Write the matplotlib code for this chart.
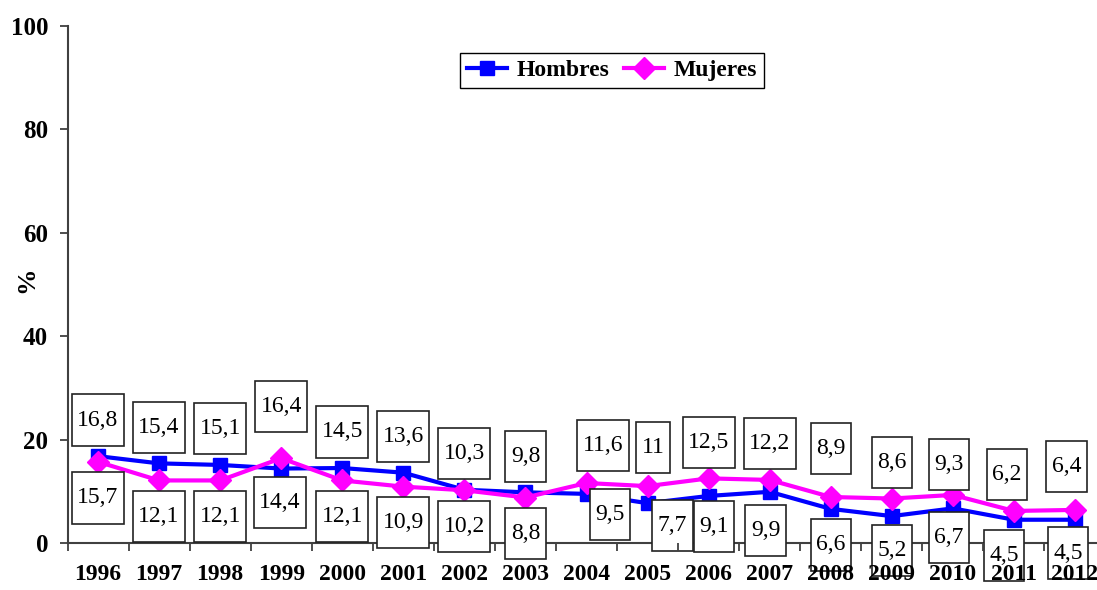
import matplotlib
matplotlib.use("Agg")
import matplotlib.pyplot as plt
import numpy as np
from matplotlib.path import Path

plt.rcParams['font.family'] = ['Liberation Serif', 'DejaVu Serif']

years = ['1996', '1997', '1998', '1999', '2000', '2001', '2002', '2003', '2004',
         '2005', '2006', '2007', '2008', '2009', '2010', '2011', '2012']
hombres = [16.8, 15.4, 15.1, 14.4, 14.5, 13.6, 10.3, 9.8, 9.5,
           7.7, 9.1, 9.9, 6.6, 5.2, 6.7, 4.5, 4.5]
mujeres = [15.7, 12.1, 12.1, 16.4, 12.1, 10.9, 10.2, 8.8, 11.6,
           11.0, 12.5, 12.2, 8.9, 8.6, 9.3, 6.2, 6.4]
yticks = [0, 20, 40, 60, 80, 100]

# hand placed label tweaks (dx, dy in points; dy > 0 moves a label up)
nudge_top = {'1999': (0, 11), '2004': (12, 1), '2005': (4, 2), '2008': (0, 9),
             '2010': (-3, -4), '2011': (-5, 0), '2012': (-6, 5)}
nudge_bot = {'1999': (-1, 1.5), '2004': (17, 11), '2005': (18, 10), '2006': (4, 4),
             '2007': (-3, -2), '2009': (0, 1.5), '2010': (-3, 5), '2011': (-7, 0),
             '2012': (-5, 2)}


def tall_box(x0, y0, width, height, mutation_size):
    px = 0.23 * mutation_size
    py = 0.64 * mutation_size
    x0, y0 = x0 - px, y0 - py
    x1, y1 = x0 + width + 2 * px, y0 + height + 2 * py
    return Path([(x0, y0), (x1, y0), (x1, y1), (x0, y1), (x0, y0)],
                closed=True)


fig = plt.figure(figsize=(10.97, 5.90), dpi=100)
ax = fig.add_axes([67.5 / 1097, 47 / 590, 1038 / 1097, 517 / 590])

x = np.arange(len(years))
ax.plot(x, hombres, color='#0000ff', lw=3, marker='s', ms=10, label='Hombres',
        clip_on=False, zorder=3)
ax.plot(x, mujeres, color='#ff00ff', lw=3, marker='D', ms=11, label='Mujeres',
        clip_on=False, zorder=4)

box = dict(boxstyle=tall_box, fc='white', ec='#222222', lw=1.2)
for i, yr in enumerate(years):
    h, m = hombres[i], mujeres[i]
    hi, lo = (h, m) if h >= m else (m, h)
    dx, dy = nudge_top.get(yr, (0, 0))
    ax.annotate(f'{hi:g}'.replace('.', ','), (i, hi), xytext=(dx, 26 + dy),
                textcoords='offset points', ha='center', va='center',
                fontsize=17, bbox=box, annotation_clip=False, zorder=5)
    dx, dy = nudge_bot.get(yr, (0, 0))
    ax.annotate(f'{lo:g}'.replace('.', ','), (i, lo), xytext=(dx, -26 + dy),
                textcoords='offset points', ha='center', va='center',
                fontsize=17, bbox=box, annotation_clip=False, zorder=5)

ax.set_xlim(-0.5, len(years) - 0.5)
ax.set_ylim(0, 100)
ax.set_yticks(yticks)
ax.set_yticklabels([str(v) for v in yticks], fontsize=18, fontweight='bold')
ax.set_xticks(np.arange(len(years) + 1) - 0.5)
ax.set_xticklabels([])
ax.set_xticks(x, minor=True)
ax.set_xticklabels(years, minor=True, fontsize=17, fontweight='bold')
ax.tick_params(axis='x', which='minor', length=0, pad=15)
ax.tick_params(axis='x', which='major', length=6, width=1.3, color='#404040')
ax.tick_params(axis='y', length=6, width=1.3, color='#404040', pad=8)
ax.xaxis.set_zorder(6)
ax.set_ylabel('%', fontsize=19, fontweight='bold')
ax.yaxis.set_label_coords(-0.028, 0.51)

for s in ['top', 'right']:
    ax.spines[s].set_visible(False)
for s in ['left', 'bottom']:
    ax.spines[s].set_color('#404040')
    ax.spines[s].set_linewidth(1.5)

ax.legend(loc='center', bbox_to_anchor=(612 / 1097, 1 - 70.5 / 590),
          bbox_transform=fig.transFigure, ncol=2, frameon=True, fancybox=False,
          edgecolor='black', framealpha=1, handlelength=1.7, columnspacing=0.6,
          handletextpad=0.4, borderpad=0.3,
          prop={'size': 17, 'weight': 'bold'})

fig.savefig('out.png', dpi=100)
